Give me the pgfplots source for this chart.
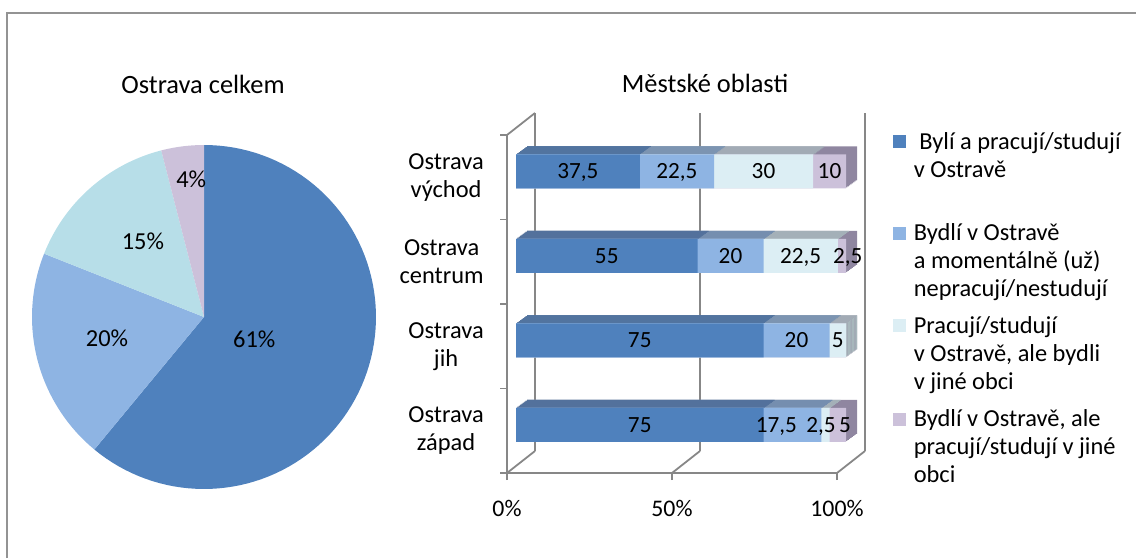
\documentclass[border=0pt]{standalone}
\usepackage{fontspec}
\setmainfont{Carlito}
\usepackage{pgfplots}
\usepackage{pgfplotstable}
\pgfplotsset{compat=1.18}

\definecolor{wall}{HTML}{878787}
% pie
\definecolor{p1}{HTML}{4F81BD}
\definecolor{p2}{HTML}{8EB4E3}
\definecolor{p3}{HTML}{B7DEE8}
\definecolor{p4}{HTML}{CCC1DA}
% bar fronts
\definecolor{b1}{HTML}{4F81BD}
\definecolor{b2}{HTML}{8EB4E3}
\definecolor{b3}{HTML}{DCEEF4}
\definecolor{b4}{HTML}{CCC1DA}
% bar tops / sides
\definecolor{t1}{HTML}{3E6496}
\definecolor{t2}{HTML}{6C8BB1}
\definecolor{t3}{HTML}{A8B7BC}
\definecolor{t4}{HTML}{8F86A0}

\newcommand{\titlefont}{\fontsize{13.2}{15}\selectfont}
\newcommand{\labfont}{\fontsize{12.2}{14}\selectfont}

% pie shares (%)
\def\pA{61}\def\pB{20}\def\pC{15}\def\pD{4}

% stacked bars, y: 3 = vychod ... 0 = zapad
\pgfplotstableread{
y  a     b     c     d
3  37.5  22.5  30    10
2  55    20    22.5  2.5
1  75    20    5     0
0  75    17.5  2.5   5
}\bars
\pgfplotstablecreatecol[create col/expr={\thisrow{a}+\thisrow{b}}]{ab}\bars
\pgfplotstablecreatecol[create col/expr={\thisrow{ab}+\thisrow{c}}]{abc}\bars
\pgfplotstablecreatecol[create col/expr={\thisrow{abc}+\thisrow{d}}]{abcd}\bars

% data labels: x = where the label sits, v = value
\pgfplotstableread{
x      y  v
18.75  3  37.5
48.75  3  22.5
75     3  30
95     3  10
27.5   2  55
65     2  20
86.25  2  22.5
100.5  2  2.5
37.5   1  75
85     1  20
97.5   1  5
37.5   0  75
78.9   0  17.5
92.4   0  2.5
99.7   0  5
}\barlabels

\pgfplotsset{
  bar3d/.style={xbar, bar width=17pt, bar shift=0pt, draw=none, forget plot},
}

\begin{document}
\fontsize{11.6}{14}\selectfont
\begin{tikzpicture}
\useasboundingbox (0,0) rectangle (568pt,279pt);
\draw[wall!90, line width=1pt] (3.5pt,0pt) -- (3.5pt,272.5pt) -- (568pt,272.5pt);

% ---- pie ----
\begin{axis}[
  scale only axis, width=172pt, height=172pt,
  at={(102pt,120.5pt)}, anchor=center,
  xmin=-1, xmax=1, ymin=-1, ymax=1,
  hide axis, clip=false,
]
\addplot[fill=p1, draw=none, domain={90-3.6*\pA}:{90}, samples=90, variable=\t]
  ({cos(\t)},{sin(\t)}) -- (axis cs:0,0) -- cycle;
\addplot[fill=p2, draw=none, domain={90-3.6*(\pA+\pB)}:{90-3.6*\pA}, samples=40, variable=\t]
  ({cos(\t)},{sin(\t)}) -- (axis cs:0,0) -- cycle;
\addplot[fill=p3, draw=none, domain={90-3.6*(\pA+\pB+\pC)}:{90-3.6*(\pA+\pB)}, samples=30, variable=\t]
  ({cos(\t)},{sin(\t)}) -- (axis cs:0,0) -- cycle;
\addplot[fill=p4, draw=none, domain={90-3.6*(\pA+\pB+\pC+\pD)}:{90-3.6*(\pA+\pB+\pC)}, samples=12, variable=\t]
  ({cos(\t)},{sin(\t)}) -- (axis cs:0,0) -- cycle;
\node[font=\labfont] at (axis cs:0.292,-0.127) {61\%};
\node[font=\labfont] at (axis cs:-0.564,-0.121) {20\%};
\node[font=\labfont] at (axis cs:-0.355,0.44) {15\%};
\node[font=\labfont] at (axis cs:-0.074,0.798) {4\%};
\end{axis}
\node[anchor=base, font=\titlefont] at (101.5pt,232.3pt) {Ostrava celkem};

% ---- back wall of the bar chart ----
\begin{axis}[
  scale only axis, width=165pt, height=169pt,
  at={(267.5pt,53.5pt)}, anchor=south west,
  xmin=0, xmax=100, ymin=-0.5, ymax=3.5,
  axis line style={draw=none}, major tick length=0pt,
  xtick={0,50,100}, xticklabels={,,}, ytick=\empty,
  xmajorgrids, major grid style={wall, line width=0.9pt},
]
\end{axis}

% ---- bars ----
\begin{axis}[
  scale only axis, width=165pt, height=169pt,
  at={(253.5pt,42.5pt)}, anchor=south west,
  xmin=0, xmax=100, ymin=-0.5, ymax=3.5, clip=false,
  axis x line*=bottom, axis y line*=left,
  axis line style={wall, line width=0.9pt, -},
  tick style={wall, line width=0.9pt},
  tick align=outside, major tick length=3.5pt,
  xtick={0,50,100}, xticklabels={0\%,50\%,100\%},
  xticklabel style={yshift=-6pt, font=\fontsize{11.9}{14}\selectfont},
  ytick={-0.5,0.5,1.5,2.5,3.5}, yticklabels={},
  extra y ticks={3,2,1,0},
  extra y tick labels={Ostrava\\východ,Ostrava\\centrum,Ostrava\\jih,Ostrava\\západ},
  extra y tick style={major tick length=0pt,
    yticklabel style={align=center, xshift=-7.6pt, font=\labfont}},
  /pgf/number format/assume math mode=true,
  /pgf/number format/use comma,
]
% depth of the bars: shifted darker copies, back to front
\pgfplotsinvokeforeach{8,7,6,5,4,3,2,1}{
  \addplot[bar3d, fill=t4, xshift={4.5pt+#1*0.6875pt}, yshift={3pt+#1*0.5pt}] table[x=abcd, y=y] {\bars};
  \addplot[bar3d, fill=t3, xshift={4.5pt+#1*0.6875pt}, yshift={3pt+#1*0.5pt}] table[x=abc, y=y] {\bars};
  \addplot[bar3d, fill=t2, xshift={4.5pt+#1*0.6875pt}, yshift={3pt+#1*0.5pt}] table[x=ab, y=y] {\bars};
  \addplot[bar3d, fill=t1, xshift={4.5pt+#1*0.6875pt}, yshift={3pt+#1*0.5pt}] table[x=a, y=y] {\bars};
}
% front faces
\addplot[bar3d, fill=b4, xshift=4.5pt, yshift=3pt] table[x=abcd, y=y] {\bars};
\addplot[bar3d, fill=b3, xshift=4.5pt, yshift=3pt] table[x=abc, y=y] {\bars};
\addplot[bar3d, fill=b2, xshift=4.5pt, yshift=3pt] table[x=ab, y=y] {\bars};
\addplot[bar3d, fill=b1, xshift=4.5pt, yshift=3pt] table[x=a, y=y] {\bars};

\addplot[draw=none, mark=none, forget plot, point meta=explicit,
  nodes near coords={\pgfmathprintnumber{\pgfplotspointmeta}},
  nodes near coords style={anchor=base, text=black, xshift=4.5pt, yshift=-0.7pt}]
  table[x=x, y=y, meta=v] {\barlabels};

% floor and side wall edges
\draw[wall, line width=0.9pt] (axis cs:0,3.5) -- ++(14pt,11pt);
\draw[wall, line width=0.9pt] (axis cs:0,-0.5) -- ++(14pt,11pt);
\draw[wall, line width=0.9pt] (axis cs:50,-0.5) -- ++(14pt,11pt);
\draw[wall, line width=0.9pt] (axis cs:100,-0.5) -- ++(14pt,11pt);
\end{axis}
\node[anchor=base, font=\titlefont] at (352.5pt,232.8pt) {Městské oblasti};

% ---- legend ----
\begin{scope}[every node/.style={anchor=base west, text width=130pt, align=flush left,
    inner sep=0pt, font=\labfont}]
\fill[b1] (446.7pt,204.85pt) rectangle ++(6.5pt,6.5pt);
\node at (456.7pt,204.35pt) {\ Bylí a pracují/studují\\v Ostravě};
\fill[b2] (446.7pt,159.15pt) rectangle ++(6.5pt,6.5pt);
\node at (456.7pt,158.65pt) {Bydlí v Ostravě\\a momentálně (už)\\nepracují/nestudují};
\fill[b3] (446.7pt,112.85pt) rectangle ++(6.5pt,6.5pt);
\node at (456.7pt,112.35pt) {Pracují/studují\\v Ostravě, ale bydli\\v jiné obci};
\fill[b4] (446.7pt,66.15pt) rectangle ++(6.5pt,6.5pt);
\node at (456.7pt,65.65pt) {Bydlí v Ostravě, ale\\pracují/studují v jiné\\obci};
\end{scope}
\end{tikzpicture}
\end{document}
